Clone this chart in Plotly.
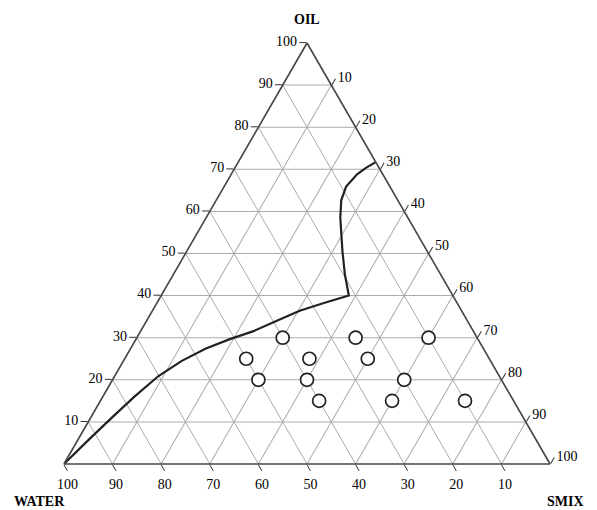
import plotly.graph_objects as go

# Formulation points (oil, water, smix) in %
pt_oil   = [30, 30, 30, 25, 25, 25, 20, 20, 20, 15, 15, 15]
pt_water = [40, 25, 10, 50, 37, 25, 50, 40, 20, 40, 25, 10]
pt_smix  = [30, 45, 60, 25, 38, 50, 30, 40, 60, 45, 60, 75]

# Phase boundary curve (oil, water, smix) in %
cv_oil   = [0, 5.5, 10.9, 16, 20.9, 24.5, 27.4, 29.6, 31.5, 34.0, 36.4, 38.3, 40.0,
            45.0, 50.4, 58.5, 62.7, 65.9, 68.8, 70.4, 71.7]
cv_smix  = [0, 2.1, 4.3, 6.5, 9.0, 12.0, 15.4, 19.2, 23.1, 26.8, 30.3, 34.5, 38.6,
            35.3, 32.1, 27.6, 25.7, 25.1, 25.9, 27.0, 28.3]
cv_water = [100 - o - s for o, s in zip(cv_oil, cv_smix)]

tick_vals = [10, 20, 30, 40, 50, 60, 70, 80, 90, 100]
tick_text = [str(v) for v in tick_vals]

axis_titles = ["OIL", "WATER", "SMIX"]

serif = "Liberation Serif"

fig = go.Figure()

fig.add_trace(go.Scatterternary(
    a=cv_oil, b=cv_water, c=cv_smix,
    mode="lines",
    line=dict(color="#222222", width=2.2),
    hoverinfo="skip",
    showlegend=False,
))

fig.add_trace(go.Scatterternary(
    a=pt_oil, b=pt_water, c=pt_smix,
    mode="markers",
    marker=dict(symbol="circle", size=13, color="white",
                line=dict(color="#222222", width=1.7)),
    showlegend=False,
))

axis_common = dict(
    tickvals=tick_vals,
    ticktext=tick_text,
    ticks="outside",
    ticklen=7,
    tickwidth=1.2,
    tickcolor="#333333",
    tickfont=dict(family=serif, size=14, color="#000000"),
    showgrid=True,
    gridcolor="#ababab",
    gridwidth=1,
    showline=True,
    linecolor="#444444",
    linewidth=1.6,
    min=0,
    title=dict(text=""),
)

fig.update_layout(
    width=597, height=510,
    margin=dict(l=55, r=54, t=35, b=54),
    paper_bgcolor="white",
    plot_bgcolor="white",
    ternary=dict(
        sum=100,
        bgcolor="white",
        aaxis=dict(**axis_common),
        baxis=dict(**axis_common),
        caxis=dict(**axis_common),
    ),
)

title_font = dict(family=serif, size=14, color="#000000", weight="bold")
title_pos = [(299, 11), (31, 493), (557, 493)]
for txt, (px, py) in zip(axis_titles, title_pos):
    fig.add_annotation(
        text=txt, xref="paper", yref="paper",
        x=(px - 55) / (597 - 55 - 54), y=(510 - py - 54) / (510 - 35 - 54),
        showarrow=False, font=title_font, xanchor="center", yanchor="middle",
    )

fig.write_html("out.html")
